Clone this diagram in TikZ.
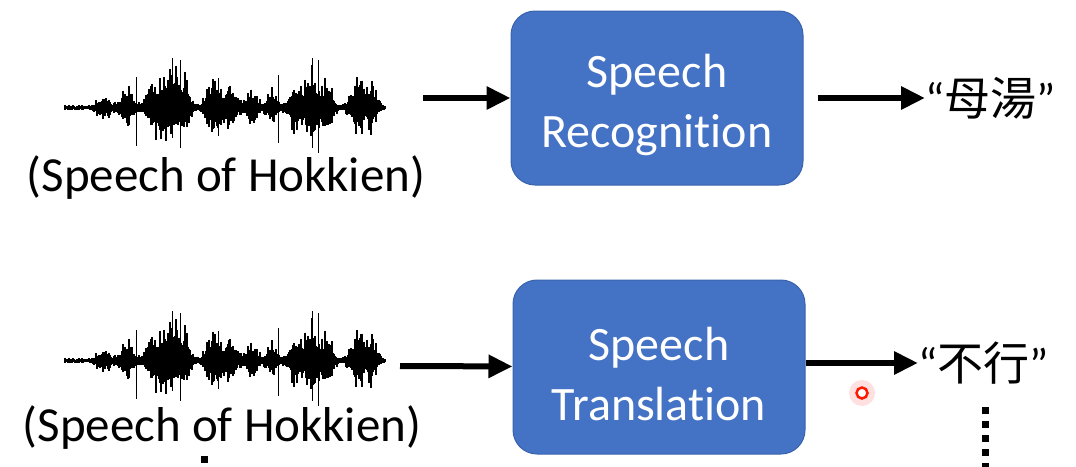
\documentclass[tikz,border=0pt]{standalone}
\usepackage{fontspec}
\setmainfont{Carlito}[Ligatures=NoCommon]
\newfontfamily\cjk{Noto Sans CJK TC}
\usepackage{tikz}
\usetikzlibrary{arrows.meta}

\definecolor{boxblue}{HTML}{4472C4}
\definecolor{boxedge}{HTML}{3A63AD}

\newcommand{\lowstrut}{\rule{0pt}{48pt}}

\tikzset{
  block/.style={draw=boxedge, line width=1pt, fill=boxblue, rounded corners=24pt,
    minimum width=292pt, minimum height=174pt, text=white, align=center,
    font=\fontsize{48}{60}\selectfont},
  label/.style={inner sep=0pt, font=\fontsize{49}{56}\selectfont},
  word/.style={inner sep=0pt, anchor=west, font=\fontsize{46}{52}\selectfont},
  arr/.style={line width=6pt, -{Triangle[length=24pt,width=22pt]}},
  dotline/.style={line width=7pt, dash pattern=on 7pt off 7pt},
  wave/.style={line width=1.3pt}
}

\begin{document}
\begin{tikzpicture}[x=1pt,y=-1pt,
    declare function={g(\x,\c,\w,\a)=\a*exp(max(-15,-((\x-\c)/\w)*((\x-\c)/\w)));}]
    \useasboundingbox (0,0) rectangle (1076,466);

    % waveforms
    \foreach \wy in {108,361}{
        \pgfmathsetseed{11}
        \foreach \x in {65,...,385}{
            \pgfmathsetmacro\amp{3+g(\x,104,8,10)+g(\x,127,7,19)+g(\x,155,10,26)+g(\x,172,9,34)+g(\x,185,6,27)+g(\x,214,9,26)+g(\x,230,7,23)+g(\x,252,7,18)+g(\x,272,6,16)+g(\x,296,8,26)+g(\x,313,8,34)+g(\x,328,6,25)+g(\x,358,8,26)+g(\x,372,6,21)}
            \pgfmathsetmacro\up{\amp*(0.45+0.9*rnd*rnd)}
            \pgfmathsetmacro\dn{\amp*(0.4+0.75*rnd*rnd)}
            \draw[wave] (\x,\wy-\up) -- (\x,\wy+\dn);
        }
        \foreach \sx/\su/\sd in {136/31/38, 172/50/30, 180/48/40, 218/30/28, 278/33/35, 312/50/40, 318/48/45, 360/27/20}
            \draw[wave, line width=0.7pt] (\sx,\wy-\su) -- (\sx,\wy+\sd);
    }

    \node[label] (hok1) at (226,178) {(Speech of Hokkien)};
    \node[label] (hok2) at (222,428) {(Speech of Hokkien)};

    \node[block] (rec) at (657,98) {\lowstrut Speech\\Recognition};
    \node[block] (trans) at (659,367) {\lowstrut Speech\\Translation};

    \node[word] (mu) at (925,98) {“{\cjk 母湯}”};
    \node[word] (bu) at (918,363) {“{\cjk 不行}”};

    \coordinate (in1) at (423,98);
    \coordinate (in2) at (400,366);
    \coordinate (out1) at (985,472);
    \coordinate (out2) at (204,472);

    \draw[arr] (in1) -- (rec);
    \draw[arr, shorten <=14pt] (rec) -- (mu);
    \draw[arr] (in2) -- (trans);
    \draw[arr] (trans.east |- bu.west) -- (bu);

    \draw[dotline] (out1 |- 0,407) -- (out1);
    \draw[dotline] (out2 |- 0,456) -- (out2);

    % pointer
    \fill[red!12] (862,393) circle (13pt);
    \node[circle, draw=red!80!orange, line width=2.5pt, fill=white, inner sep=0pt, minimum size=11pt] (ptr) at (862,393) {};
\end{tikzpicture}
\end{document}
